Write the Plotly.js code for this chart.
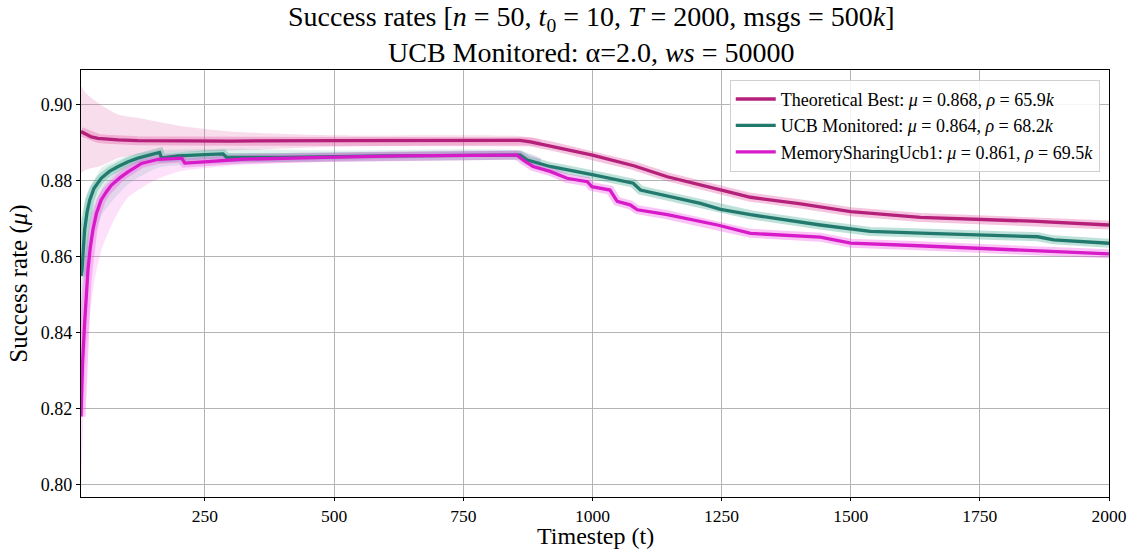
<!DOCTYPE html>
<html>
<head>
<meta charset="utf-8">
<script src="https://cdn.plot.ly/plotly-3.0.1.min.js"></script>
<style>html,body{margin:0;padding:0;background:#fff;}#chart{width:1137px;height:549px;}</style>
</head>
<body>
<div id="chart"></div>
<script>
// ---- Data ----
const seriesNames = [
  "Theoretical Best: <i>μ</i> = 0.868, <i>ρ</i> = 65.9<i>k</i>",
  "UCB Monitored: <i>μ</i> = 0.864, <i>ρ</i> = 68.2<i>k</i>",
  "MemorySharingUcb1: <i>μ</i> = 0.861, <i>ρ</i> = 69.5<i>k</i>"
];

const bestT = [10,15,20,30,43,60,82,120,200,300,500,700,860,880,920,1000,1080,1145,1250,1306,1400,1500,1635,1751,1850,2000];
const bestV = [0.8930,0.8927,0.8922,0.8916,0.8912,0.8910,0.8908,0.8906,0.8905,0.8905,0.8906,0.8907,0.8907,0.8903,0.8892,0.8868,0.8840,0.8811,0.8776,0.8757,0.8740,0.8719,0.8704,0.8699,0.8694,0.8684];

const ucbT = [10,12,17,22,27,35,49,65,82,100,120,140,156,162,166,180,198,250,285,292,400,600,860,874,918,1002,1079,1093,1150,1209,1248,1306,1441,1538,1650,1751,1862,1893,2000];
const ucbV = [0.8550,0.8566,0.8671,0.8720,0.8750,0.8780,0.8807,0.8825,0.8838,0.8850,0.8860,0.8867,0.8873,0.8875,0.8860,0.8862,0.8866,0.8869,0.8871,0.8862,0.8862,0.8866,0.8868,0.8855,0.8838,0.8816,0.8794,0.8776,0.8758,0.8741,0.8725,0.8711,0.8684,0.8667,0.8662,0.8658,0.8653,0.8645,0.8636];

const msT = [10,13,17,20,23.5,28,33,40,49,60,69,85,101,127,160,205,211,256,321,483,628,854,866,885,918,951,990,999,1034,1048,1073,1087,1145,1242,1281,1306,1441,1500,1620,1751,1880,2000];
const msV = [0.8180,0.8320,0.8425,0.8500,0.8566,0.8625,0.8671,0.8715,0.8750,0.8773,0.8789,0.8808,0.8824,0.8846,0.8857,0.8860,0.8847,0.8851,0.8857,0.8862,0.8866,0.8868,0.8855,0.8838,0.8825,0.8807,0.8798,0.8785,0.8776,0.8746,0.8737,0.8724,0.8711,0.8684,0.8671,0.8662,0.8652,0.8636,0.8630,0.8623,0.8615,0.8608];

// spread of the individual runs (envelopes), early phase
const bestBandT  = [10,20,49,82,120,200,300,500,860,900];
const bestBandHi = [0.9050,0.9030,0.9000,0.8975,0.8966,0.8945,0.8930,0.8920,0.8918,0.8908];
const bestBandLo = [0.8820,0.8830,0.8840,0.8860,0.8868,0.8875,0.8880,0.8890,0.8895,0.8890];

const ucbBandT  = [10,20,35,50,100,160,300,500,860,900];
const ucbBandHi = [0.8700,0.8760,0.8800,0.8835,0.8865,0.8880,0.8885,0.8880,0.8880,0.8860];
const ucbBandLo = [0.8400,0.8550,0.8650,0.8710,0.8790,0.8835,0.8845,0.8855,0.8862,0.8840];

const msBandT  = [10,15,20,35,50,75,100,150,200,300,500,860,900];
const msBandHi = [0.8400,0.8520,0.8600,0.8720,0.8780,0.8820,0.8845,0.8862,0.8870,0.8872,0.8875,0.8877,0.8860];
const msBandLo = [0.7970,0.8200,0.8350,0.8530,0.8620,0.8700,0.8755,0.8800,0.8825,0.8840,0.8852,0.8860,0.8830];

const colors = ["#b5207a", "#227a6e", "#d81bc8"];
const bandFill = ["rgba(215,60,140,0.17)", "rgba(60,170,150,0.16)", "rgba(240,70,225,0.16)"];
const haloCol = ["rgba(225,90,165,0.35)", "rgba(70,170,150,0.35)", "rgba(240,90,230,0.35)"];

const T = [bestT, ucbT, msT], V = [bestV, ucbV, msV];
const BT = [bestBandT, ucbBandT, msBandT], BH = [bestBandHi, ucbBandHi, msBandHi], BL = [bestBandLo, ucbBandLo, msBandLo];

const traces = [];
for (let i = 0; i < 3; i++) {
  traces.push({x: BT[i], y: BL[i], mode: 'lines', line: {width: 0, color: 'rgba(0,0,0,0)', shape: 'spline', smoothing: 0.6}, showlegend: false, hoverinfo: 'skip'});
  traces.push({x: BT[i], y: BH[i], mode: 'lines', fill: 'tonexty', fillcolor: bandFill[i], line: {width: 0, color: 'rgba(0,0,0,0)', shape: 'spline', smoothing: 0.6}, showlegend: false, hoverinfo: 'skip'});
}
for (let i = 0; i < 3; i++) {
  traces.push({x: T[i], y: V[i], mode: 'lines', line: {width: 9, color: haloCol[i]}, showlegend: false, hoverinfo: 'skip'});
}
for (let i = 0; i < 3; i++) {
  traces.push({x: T[i], y: V[i], mode: 'lines', name: seriesNames[i], line: {width: 3.3, color: colors[i]}});
}

const font = 'Liberation Serif, Times New Roman, serif';
const layout = {
  width: 1137, height: 549,
  margin: {l: 81, r: 28, t: 70, b: 52},
  paper_bgcolor: '#fff', plot_bgcolor: '#fff',
  font: {family: font, color: '#000', size: 18},
  title: {
    text: 'Success rates [<i>n</i> = 50, <i>t</i><sub>0</sub> = 10, <i>T</i> = 2000, msgs = 500<i>k</i>]<br>UCB Monitored: α=2.0, <i>ws</i> = 50000',
    font: {family: font, size: 28, color: '#000'},
    x: 0.52, xanchor: 'center', y: 0.953, yanchor: 'top'
  },
  xaxis: {
    range: [10, 2000], tickvals: [250,500,750,1000,1250,1500,1750,2000],
    ticks: 'outside', ticklen: 3, tickcolor: '#000',
    showline: true, mirror: true, linecolor: '#000', linewidth: 1.2,
    showgrid: true, gridcolor: '#b4b4b4', gridwidth: 1, zeroline: false,
    tickfont: {size: 17.5}
  },
  yaxis: {
    range: [0.7968, 0.9092], tickvals: [0.80,0.82,0.84,0.86,0.88,0.90], tickformat: '.2f',
    ticks: 'outside', ticklen: 4, tickcolor: '#000',
    showline: true, mirror: true, linecolor: '#000', linewidth: 1.2,
    showgrid: true, gridcolor: '#b4b4b4', gridwidth: 1, zeroline: false,
    tickfont: {size: 18},
    title: {text: 'Success rate (<i>μ</i>)', font: {size: 25}, standoff: 6}
  },
  annotations: [{
    text: 'Timestep (t)', xref: 'paper', yref: 'paper', x: 0.5, xanchor: 'center',
    y: -52 / 427, yanchor: 'bottom', yshift: -2, showarrow: false,
    font: {family: font, size: 24, color: '#000'}
  }],
  legend: {
    x: 0.991, y: 0.977, xanchor: 'right', yanchor: 'top',
    traceorder: 'normal', itemwidth: 40,
    bgcolor: 'rgba(255,255,255,0.85)', bordercolor: '#d0d0d0', borderwidth: 1,
    font: {family: font, size: 18}
  },
  showlegend: true
};

Plotly.newPlot('chart', traces, layout, {displayModeBar: false, staticPlot: true});
</script>
</body>
</html>
